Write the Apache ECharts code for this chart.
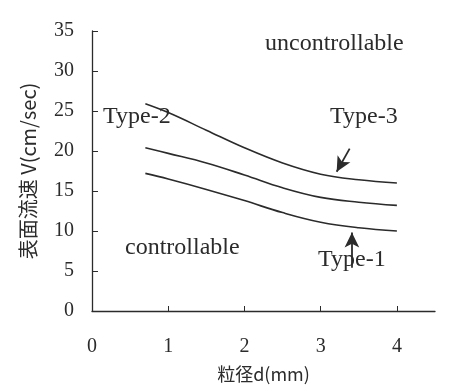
<!DOCTYPE html>
<html>
<head>
<meta charset="utf-8">
<script src="https://cdn.jsdelivr.net/npm/echarts@6/dist/echarts.min.js"></script>
<style>
  html, body { margin: 0; padding: 0; background: #fff; }
  #chart { width: 466px; height: 392px; }
</style>
</head>
<body>
<div id="chart"></div>
<script>
const sizes = [0.7, 1.0, 1.5, 2.0, 2.5, 3.0, 3.5, 4.0]
const upperLine = [25.9, 24.8, 22.6, 20.4, 18.5, 17.1, 16.4, 16.0]
const middleLine = [20.4, 19.7, 18.5, 17.0, 15.4, 14.2, 13.6, 13.2]
const lowerLine = [17.2, 16.5, 15.2, 13.8, 12.3, 11.1, 10.4, 10.0]
const xTickLabels = [0, 1, 2, 3, 4]
const yTickLabels = [0, 5, 10, 15, 20, 25, 30, 35]

// arrows in data units: [from, to]
const type3Arrow = [[3.38, 20.3], [3.21, 17.4]]
const type1Arrow = [[3.41, 5.4], [3.41, 9.8]]

const ink = '#2b2b2b'
const serif = 'Liberation Serif'

const toPairs = vals => vals.map((v, i) => [sizes[i], v])

const arrowLine = pts => ({
  silent: true,
  symbol: ['none', 'arrow'],
  symbolSize: [11, 15],
  label: { show: false },
  lineStyle: { color: ink, width: 1.8, type: 'solid' },
  data: [[{ coord: pts[0] }, { coord: pts[1] }]]
})

const curve = (name, vals, extra) => Object.assign({
  name,
  type: 'line',
  smooth: 0.4,
  symbol: 'none',
  lineStyle: { color: ink, width: 1.6 },
  data: toPairs(vals)
}, extra || {})

const annText = (text, left, top) => ({
  type: 'text',
  left,
  top,
  style: { text, fill: ink, font: '24px "' + serif + '"' }
})

const chart = echarts.init(document.getElementById('chart'), null, { renderer: 'canvas' })

chart.setOption({
  animation: false,
  backgroundColor: '#fff',
  grid: { left: 92, right: 31, top: 31, bottom: 81 },
  xAxis: {
    type: 'value',
    min: 0,
    max: 4.5,
    interval: 1,
    name: '粒径d(mm)',
    nameLocation: 'middle',
    nameGap: 54,
    nameTextStyle: { color: ink, fontSize: 18, fontFamily: 'Noto Sans CJK JP' },
    axisLine: { lineStyle: { color: ink, width: 1.3 } },
    axisTick: { inside: true, length: 5, lineStyle: { color: ink }, customValues: [1, 2, 3, 4] },
    axisLabel: { color: ink, fontSize: 20, fontFamily: serif, margin: 26, customValues: xTickLabels },
    splitLine: { show: false }
  },
  yAxis: {
    type: 'value',
    min: 0,
    max: 35,
    interval: 5,
    name: '表面流速 V(cm/sec)',
    nameLocation: 'middle',
    nameGap: 54,
    nameTextStyle: { color: ink, fontSize: 20, fontFamily: 'Noto Sans CJK JP' },
    axisLine: { show: true, lineStyle: { color: ink, width: 1.3 } },
    axisTick: { show: true, inside: true, length: 6, lineStyle: { color: ink }, customValues: yTickLabels.slice(1) },
    axisLabel: { color: ink, fontSize: 20, fontFamily: serif, margin: 18, customValues: yTickLabels },
    splitLine: { show: false }
  },
  series: [
    curve('Type-3', upperLine, { markLine: arrowLine(type3Arrow) }),
    curve('Type-2', middleLine),
    curve('Type-1', lowerLine, { markLine: arrowLine(type1Arrow) })
  ],
  graphic: [
    annText('uncontrollable', 265, 32),
    annText('Type-2', 103, 105),
    annText('Type-3', 330, 105),
    annText('controllable', 125, 236),
    annText('Type-1', 318, 248)
  ]
})
</script>
</body>
</html>
